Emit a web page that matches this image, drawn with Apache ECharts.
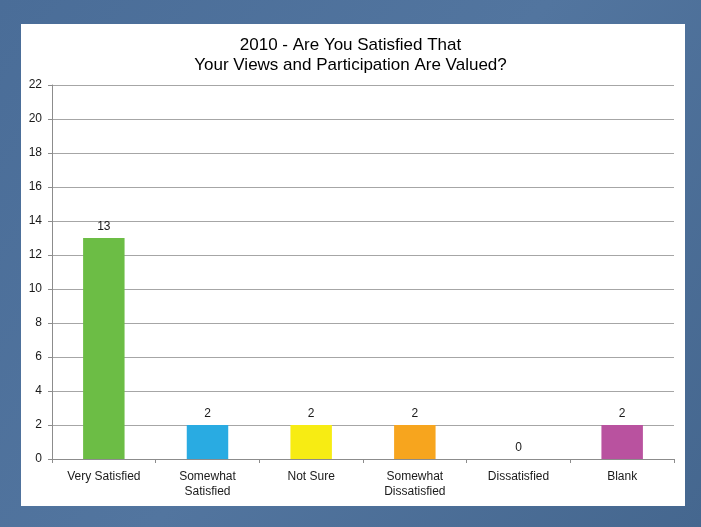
<!DOCTYPE html>
<html><head><meta charset="utf-8">
<script src="https://cdn.jsdelivr.net/npm/echarts@6/dist/echarts.min.js"></script>
<style>
html,body{margin:0;padding:0;}
body{width:701px;height:527px;background:#4b6e98;overflow:hidden;}
#main{width:701px;height:527px;}
</style></head>
<body><div id="main"></div>
<script>
const categories = ['Very Satisfied', 'Somewhat\nSatisfied', 'Not Sure', 'Somewhat\nDissatisfied', 'Dissatisfied', 'Blank'];
const values = [13, 2, 2, 2, 0, 2];
const colors = ['#6cbd45', '#29abe2', '#f7ec13', '#f7a51e', '#ffffff', '#b9529f'];
const yTicks = {min: 0, max: 22, interval: 2};
const titleText = '2010 - Are You Satisfied That\nYour Views and Participation Are Valued?';

const font = '"Liberation Sans Narrow", "Liberation Sans", Arial, sans-serif';
const chart = echarts.init(document.getElementById('main'), null, {renderer: 'canvas'});
chart.setOption({
  backgroundColor: 'transparent',
  animation: false,
  graphic: [
    {type: 'rect', shape: {x: 0, y: 0, width: 701, height: 527}, style: {fill: new echarts.graphic.LinearGradient(0, 0, 1, 1, [{offset: 0, color: '#4a6d98'}, {offset: 0.5, color: '#52759f'}, {offset: 1, color: '#45678f'}])}, z: -10},
    {type: 'rect', shape: {x: 21, y: 24, width: 664, height: 482}, style: {fill: '#ffffff'}, z: -9}
  ],
  title: {
    text: titleText,
    left: 'center',
    top: 30,
    textStyle: {fontFamily: 'Arial, "Liberation Sans", sans-serif', fontSize: 17, fontWeight: 'normal', color: '#000', lineHeight: 20}
  },
  grid: {left: 52, right: 27, top: 85, bottom: 68, containLabel: false},
  xAxis: {
    type: 'category',
    data: categories,
    axisLine: {lineStyle: {color: '#8c8c8c'}},
    axisTick: {show: true, alignWithLabel: false, length: 4, lineStyle: {color: '#8c8c8c'}},
    axisLabel: {color: '#1a1a1a', fontFamily: font, fontSize: 12, margin: 10, lineHeight: 15, interval: 0}
  },
  yAxis: {
    type: 'value',
    min: yTicks.min, max: yTicks.max, interval: yTicks.interval,
    axisLine: {show: true, lineStyle: {color: '#8c8c8c'}},
    axisTick: {show: true, length: 4, lineStyle: {color: '#8c8c8c'}},
    axisLabel: {color: '#1a1a1a', fontFamily: font, fontSize: 12, margin: 10},
    splitLine: {lineStyle: {color: '#a6a6a6'}}
  },
  series: [{
    type: 'bar',
    data: values.map((v, i) => ({value: v, itemStyle: {color: colors[i]}})),
    barWidth: '40%',
    label: {show: true, position: 'top', color: '#1a1a1a', fontFamily: font, fontSize: 12, distance: 5}
  }]
});
</script></body></html>
